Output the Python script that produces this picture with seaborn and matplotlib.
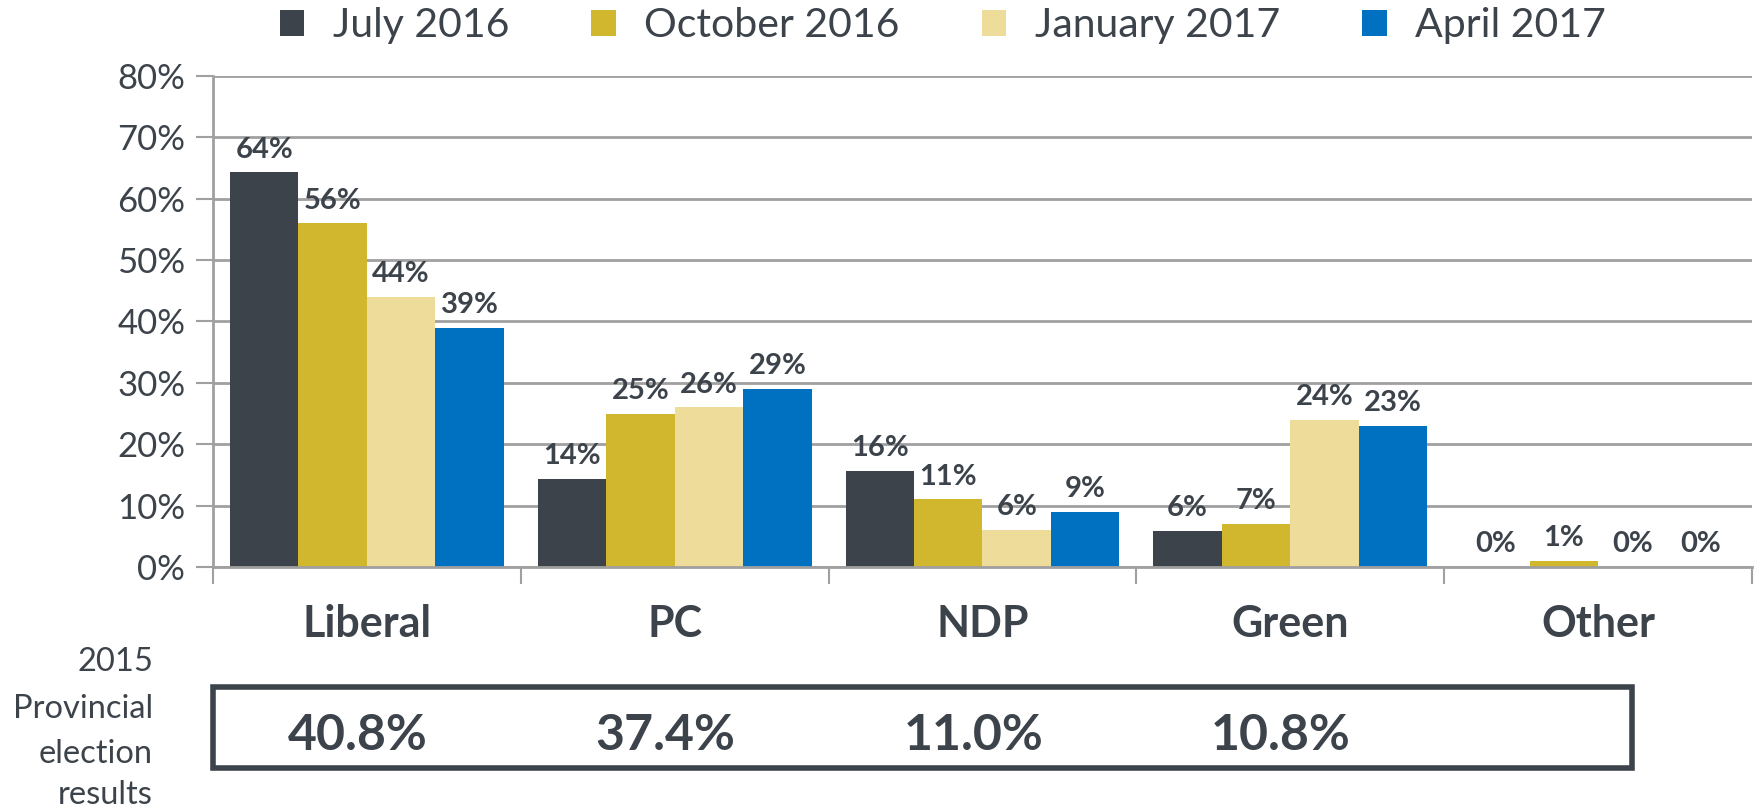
import matplotlib
matplotlib.use("Agg")
import matplotlib.pyplot as plt
import matplotlib.transforms as mtransforms
from matplotlib.patches import Rectangle
import seaborn as sns
import pandas as pd

parties = ["Liberal", "PC", "NDP", "Green", "Other"]
periods = ["July 2016", "October 2016", "January 2017", "April 2017"]
july_2016 = [64.3, 14.4, 15.7, 5.9, 0.0]
october_2016 = [56.0, 25.0, 11.0, 7.0, 1.0]
january_2017 = [44.0, 26.0, 6.0, 24.0, 0.0]
april_2017 = [39.0, 29.0, 9.0, 23.0, 0.0]
election_2015 = ["40.8%", "37.4%", "11.0%", "10.8%", ""]
y_ticks = [0, 10, 20, 30, 40, 50, 60, 70, 80]

colors = ["#3C434A", "#D1B72E", "#EDDC9A", "#0070C0"]
text_col = "#3C434A"

sns.set_theme(style="white")
plt.rcParams["font.family"] = ["Lato", "DejaVu Sans"]

rows = []
for per, vals in zip(periods, [july_2016, october_2016, january_2017, april_2017]):
    for p, v in zip(parties, vals):
        rows.append({"party": p, "period": per, "value": v})
df = pd.DataFrame(rows)

fig = plt.figure(figsize=(17.56, 8.11), dpi=100)
ax = fig.add_axes([0.1213, 0.3009, 0.8764, 0.6054])

sns.barplot(data=df, x="party", y="value", hue="period", order=parties,
            hue_order=periods, palette=colors, width=0.89, saturation=1,
            ax=ax, legend=True, linewidth=0)

for cont in ax.containers:
    ax.bar_label(cont, fmt="%.0f%%", padding=7, fontsize=21, fontweight="bold",
                 color=text_col)

ax.set_ylim(0, 80)
ax.set_xlim(-0.5, 4.5)
ax.set_yticks(y_ticks)
ax.set_yticklabels([f"{t}%" for t in y_ticks], fontsize=25, color=text_col)
ax.yaxis.grid(True, color="#A0A0A0", linewidth=2)
ax.set_axisbelow(True)
ax.tick_params(axis="y", length=12, width=1.5, color="#A0A0A0", pad=8, left=True)

ax.set_xticks([-0.5, 0.5, 1.5, 2.5, 3.5, 4.5])
ax.set_xticklabels([""] * 6)
ax.set_xticks(range(len(parties)), minor=True)
ax.set_xticklabels(parties, minor=True, fontsize=31, fontweight="bold", color=text_col)
ax.tick_params(axis="x", which="major", length=12, width=1.5, color="#A0A0A0", bottom=True)
ax.tick_params(axis="x", which="minor", length=0, pad=27)
ax.set_xlabel("")
ax.set_ylabel("")

for s in ["top", "right"]:
    ax.spines[s].set_visible(False)
for s in ["left", "bottom"]:
    ax.spines[s].set_color("#A0A0A0")
    ax.spines[s].set_linewidth(2)

handles, labels = ax.get_legend_handles_labels()
ax.get_legend().remove()
fig.legend(handles, labels, loc="center", bbox_to_anchor=(0.537, 0.968), ncol=4,
           frameon=False, fontsize=29.5, handlelength=0.6, handleheight=0.6,
           handletextpad=0.7, columnspacing=2.0, labelcolor=text_col)

# Election results box
trans = mtransforms.blended_transform_factory(ax.transData, fig.transFigure)
box = Rectangle((213 / 1756, 1 - 768 / 811), (1632 - 213) / 1756, (768 - 687) / 811,
                transform=fig.transFigure, fill=False, edgecolor=text_col,
                linewidth=4, clip_on=False)
fig.patches.append(box)
for i, t in enumerate(election_2015):
    if t:
        fig.text(i - 0.03, 1 - 735 / 811, t, transform=trans, ha="center", va="center",
                 fontsize=36, fontweight="bold", color=text_col)

for line, yy in zip(["2015", "Provincial", "election", "results"], [662, 709, 754, 795]):
    fig.text(153 / 1756, 1 - yy / 811, line, ha="right", va="center", fontsize=23.5,
             color=text_col)

fig.savefig("out.png", dpi=100)
